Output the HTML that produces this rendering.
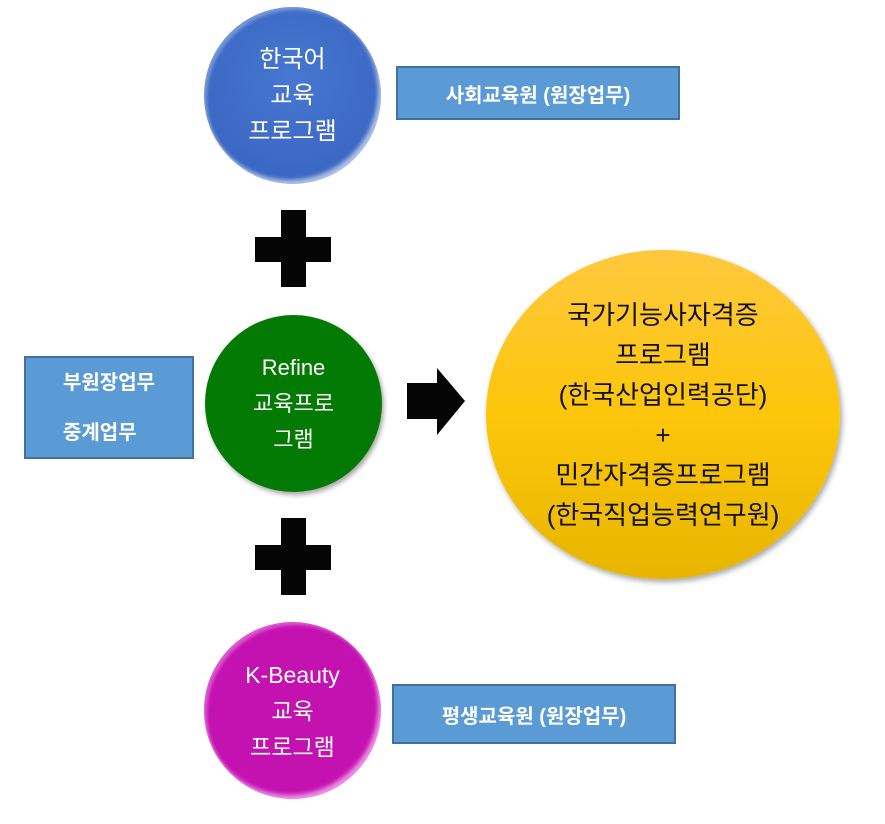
<!DOCTYPE html>
<html><head><meta charset="utf-8"><style>
body{margin:0;width:885px;height:824px;background:#fff;position:relative;overflow:hidden;font-family:"Liberation Sans","Noto Sans CJK KR",sans-serif}
.a{position:absolute;box-sizing:border-box}
.c{border-radius:50%;display:flex;flex-direction:column;align-items:center;justify-content:center;text-align:center}
.box{background:#5b9bd5;border:2px solid #41719c;color:#fff;font-weight:bold;font-size:20px;display:flex;align-items:center;justify-content:center}
.pl{background:#050505}
</style></head><body>
<div class="a c" style="left:204px;top:7px;width:177px;height:177px;background:radial-gradient(circle at 50% 40%,#4777d0,#3561be);box-shadow:inset -3px -4px 4px rgba(255,255,255,.6),inset 3px 3px 3px rgba(255,255,255,.3);color:#fff;font-size:24px;line-height:36px">한국어<br>교육<br>프로그램</div>
<div class="a box" style="left:396px;top:66px;width:284px;height:54px">사회교육원 (원장업무)</div>
<div class="a pl" style="left:255px;top:237px;width:76px;height:25px"></div>
<div class="a pl" style="left:281px;top:210px;width:25px;height:77px"></div>
<div class="a box" style="left:24px;top:356px;width:170px;height:103px;flex-direction:column;line-height:50px">부원장업무<br>중계업무</div>
<div class="a c" style="left:205px;top:315px;width:177px;height:177px;background:#037a03;box-shadow:2px 3px 5px rgba(0,0,0,.35);color:#fff;font-size:22px;line-height:36px">Refine<br>교육프로<br>그램</div>
<svg class="a" style="left:405px;top:366px" width="62" height="72"><polygon points="2,17 32,17 32,2 60,35 32,69 32,53 2,53" fill="#050505"/></svg>
<div class="a c" style="left:486px;top:250px;width:354px;height:329px;background:linear-gradient(#fec83e,#fdc60a 50%,#e7b500);box-shadow:2px 3px 6px rgba(0,0,0,.35);color:#111;font-size:26px;line-height:40px">국가기능사자격증<br>프로그램<br>(한국산업인력공단)<br>+<br>민간자격증프로그램<br>(한국직업능력연구원)</div>
<div class="a pl" style="left:255px;top:545px;width:76px;height:25px"></div>
<div class="a pl" style="left:281px;top:518px;width:25px;height:77px"></div>
<div class="a c" style="left:204px;top:622px;width:177px;height:177px;background:#c412b1;box-shadow:inset -3px -4px 4px rgba(255,200,255,.7),inset 3px 3px 3px rgba(255,200,255,.4);color:#fff;font-size:23px;line-height:36px">K-Beauty<br>교육<br>프로그램</div>
<div class="a box" style="left:392px;top:684px;width:284px;height:60px">평생교육원 (원장업무)</div>
</body></html>
